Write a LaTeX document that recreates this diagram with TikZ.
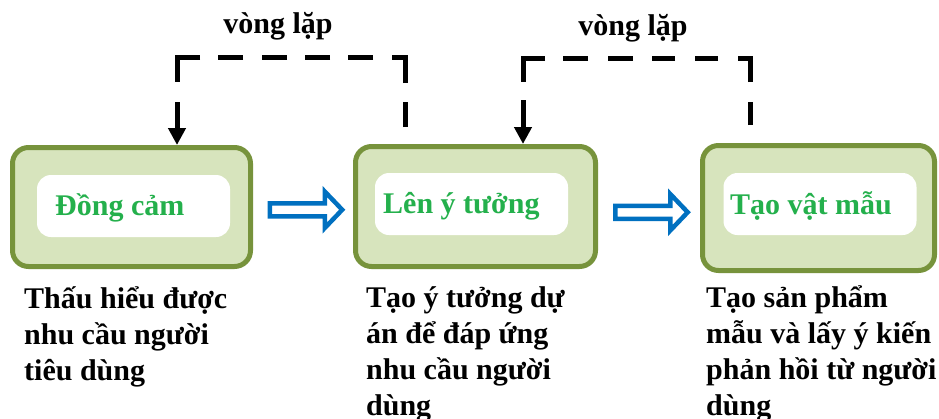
\documentclass[tikz,border=0pt]{standalone}
\usepackage{fontspec}
\setmainfont{Liberation Serif}
\usetikzlibrary{arrows.meta,calc}
\definecolor{boxline}{RGB}{119,147,60}
\definecolor{boxfill}{RGB}{215,228,189}
\definecolor{stepgreen}{RGB}{36,176,76}
\definecolor{flowblue}{RGB}{0,112,192}

\tikzset{
  stagebox/.style={draw=boxline, fill=boxfill, line width=5pt,
    rounded corners=16pt, inner sep=0pt},
  stagepad/.style={fill=white, rounded corners=14pt, inner sep=0pt,
    minimum width=193pt, minimum height=62pt},
  stagename/.style={anchor=base west, inner sep=0pt, text=stepgreen,
    font=\bfseries\fontsize{30}{36}\selectfont},
  % multi-line notes: the base anchor sits on the last line
  notetext/.style={anchor=base west, align=left, inner sep=0pt,
    font=\bfseries\fontsize{30}{36}\selectfont},
  looptext/.style={anchor=base, inner sep=0pt,
    font=\bfseries\fontsize{30}{36}\selectfont},
  loopline/.style={line width=5pt, -{Triangle[length=17pt,width=17pt]}},
  blockarrow/.pic={
    \draw[draw=flowblue, fill=white, line width=4.5pt, line join=miter]
      (-36.75,-6.5) -- (18.25,-6.5) -- (18.25,-18.25) -- (35.7,0)
      -- (18.25,18.25) -- (18.25,6.5) -- (-36.75,6.5) -- cycle;
  }
}

\begin{document}
\begin{tikzpicture}[x=1pt,y=-1pt]
\useasboundingbox (0,0) rectangle (939,418);

% the three stages
\node[stagebox, minimum width=238pt, minimum height=119pt] (b1) at (131.5,207) {};
\node[stagebox, minimum width=240pt, minimum height=120pt] (b2) at (475.5,206.5) {};
\node[stagebox, minimum width=232pt, minimum height=125pt] (b3) at (818.5,208) {};

\node[stagepad] (w1) at (133.5,206) {};
\node[stagepad] (w2) at (471.5,204) {};
\node[stagepad] (w3) at (820,204) {};

\node[stagename] (s1) at (55,215) {Đồng cảm};
\node[stagename] (s2) at (383,213) {Lên ý tưởng};
\node[stagename] (s3) at (730,214) {Tạo vật mẫu};

% forward arrows between stages
\pic at ($(b1.east)!0.5!(b2.west)+(3.5,3)$) {blockarrow};
\pic at ($(b2.east)!0.5!(b3.west)+(3,5)$) {blockarrow};

% feedback loops
\coordinate (r1) at (405,127);
\coordinate (k1) at (177,57);
\draw[loopline, dash pattern=on 25pt off 19pt on 39pt off 19pt on 25pt off 18pt
  on 25pt off 18pt on 25pt off 19pt on 25pt off 18pt on 48pt off 20pt on 80pt off 1pt]
  (r1) |- (k1) -- (k1 |- b1.north);

\coordinate (r2) at (750,125);
\coordinate (k2) at (523,58);
\draw[loopline, dash pattern=on 23pt off 20pt on 36pt off 20pt on 23pt off 20pt
  on 23pt off 19pt on 25pt off 20pt on 25pt off 18pt on 46pt off 18pt on 80pt off 1pt]
  (r2) |- (k2) -- (k2 |- b2.north);

\node[looptext] (v1) at (278,33) {vòng lặp};
\node[looptext] (v2) at (633,35) {vòng lặp};

% descriptions under the stages
\node[notetext] (n1) at (24,380) {Thấu hiểu được\\nhu cầu người\\tiêu dùng};
\node[notetext] (n2) at (366,415) {Tạo ý tưởng dự\\án để đáp ứng\\nhu cầu người\\dùng};
\node[notetext] (n3) at (706,415) {Tạo sản phẩm\\mẫu và lấy ý kiến\\phản hồi từ người\\dùng};
\end{tikzpicture}
\end{document}
